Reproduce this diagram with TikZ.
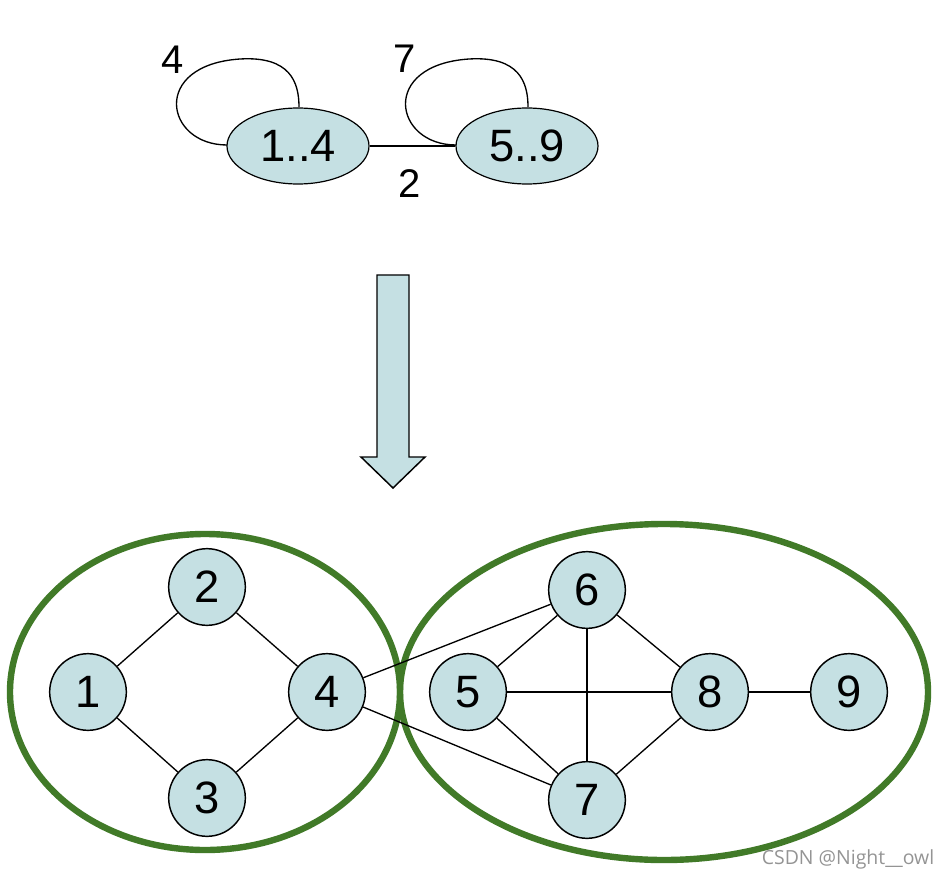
\documentclass[tikz,border=0pt]{standalone}
\usepackage{fontspec}
\setmainfont{Liberation Sans}
\newfontfamily\wmfont{Open Sans}
\usetikzlibrary{shapes.geometric}
\definecolor{nodefill}{RGB}{197,224,227}
\definecolor{grp}{RGB}{65,122,40}
\begin{document}
\begin{tikzpicture}[x=0.75pt,y=-0.75pt,
  vtx/.style={circle,draw=black,line width=1.1pt,fill=nodefill,minimum size=57.5pt,inner sep=0pt,font=\fontsize{34}{34}\selectfont},
  grpnode/.style={ellipse,draw=black,line width=0.9pt,fill=nodefill,minimum width=106.5pt,minimum height=57pt,inner sep=0pt,font=\fontsize{34}{34}\selectfont},
  lbl/.style={inner sep=0pt,font=\fontsize{30}{30}\selectfont},
  edge/.style={line width=1pt,draw=black},
  group/.style={draw=grp,line width=4.8pt}]
\useasboundingbox (0,0) rectangle (948,880);
% top summary graph
\draw[edge] (227,145) .. controls (165,145) and (150,65) .. (240,59) .. controls (290,56) and (299,82) .. (299,107);
\draw[edge] (456,145) .. controls (394,145) and (379,65) .. (469,59) .. controls (519,56) and (528,82) .. (528,107);
\node[grpnode] (a) at (298,146) {1..4};
\node[grpnode] (b) at (527,146) {5..9};
\draw[edge] (a) -- (b);
\node[lbl] (la) at (173,60) {4};
\node[lbl] (lb) at (405,59) {7};
\node[lbl] (lab) at (410,184) {2};
% arrow
\draw[fill=nodefill,line width=1.1pt] (377,275) -- (409,275) -- (409,457) -- (425,457) -- (393,488) -- (361,457) -- (377,457) -- cycle;
% groups
\draw[group] (205,692) ellipse [x radius=146.25pt, y radius=118.5pt];
\draw[group] (664,692) ellipse [x radius=198pt, y radius=126pt];
% nodes
\node[vtx] (n1) at (88,692) {1};
\node[vtx] (n2) at (207,587) {2};
\node[vtx] (n3) at (207,798) {3};
\node[vtx] (n4) at (327,692) {4};
\node[vtx] (n5) at (468,692) {5};
\node[vtx] (n6) at (587,590) {6};
\node[vtx] (n7) at (587,800) {7};
\node[vtx] (n8) at (710,692) {8};
\node[vtx] (n9) at (849,692) {9};
\foreach \u/\v in {n1/n2,n2/n4,n1/n3,n3/n4,n4/n6,n4/n7,n5/n6,n5/n8,n5/n7,n6/n8,n6/n7,n7/n8,n8/n9}
  \draw[edge] (\u) -- (\v);
% watermark
\node[text=black!42,inner sep=0pt,font=\wmfont\fontsize{14.6}{14.6}\selectfont] (wm) at (848,859) {CSDN @Night\_\_owl};
\end{tikzpicture}
\end{document}
